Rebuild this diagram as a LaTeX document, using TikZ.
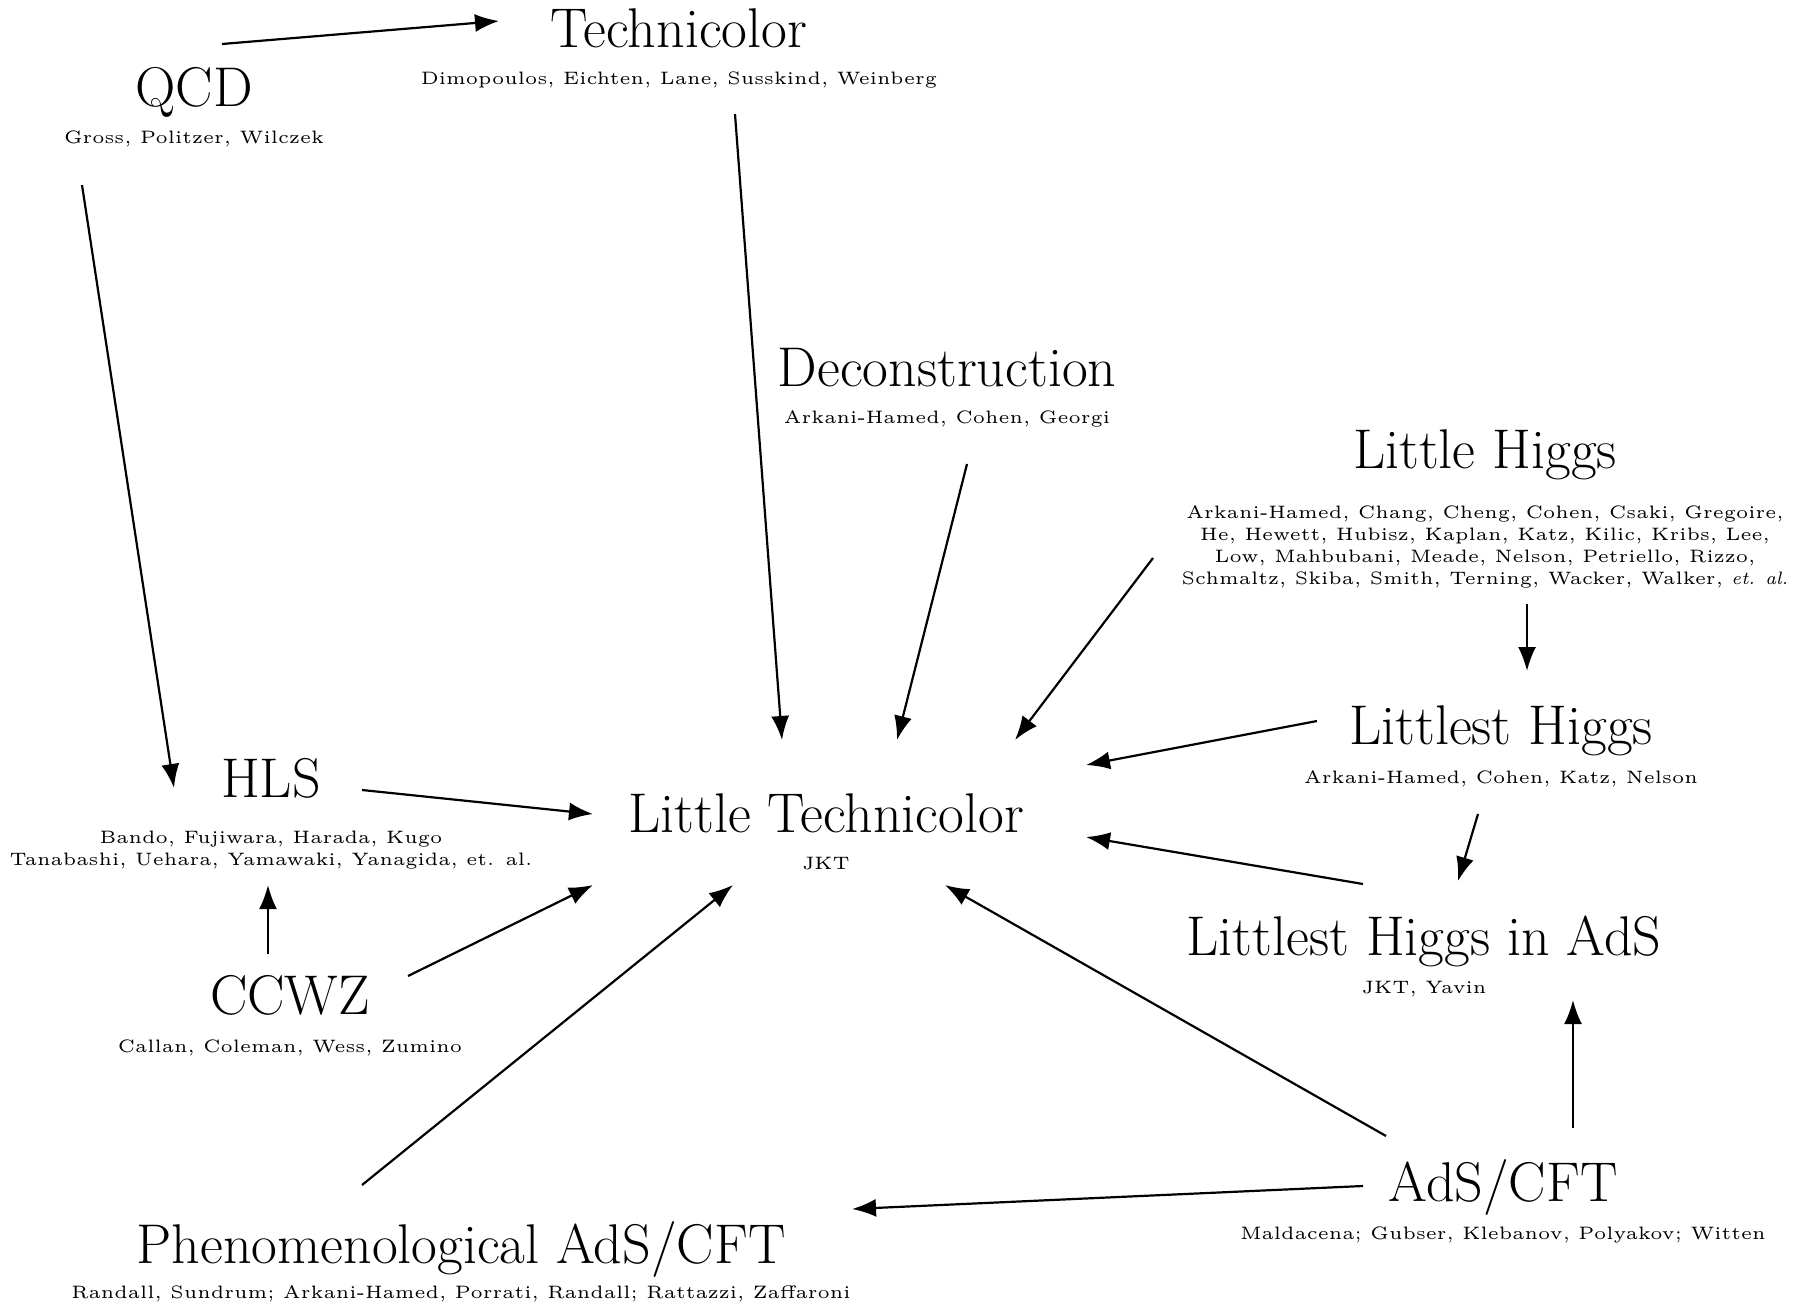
\documentclass[tikz,border=0pt]{standalone}
\usepackage{graphicx}
\usetikzlibrary{arrows.meta}
\begin{document}
\begin{tikzpicture}[x=0.5pt,y=-0.5pt,
  ttl/.style={anchor=base,inner sep=0pt,font=\fontsize{28}{31}\selectfont},
  sub/.style={anchor=base,inner sep=0pt,align=center,font=\fontsize{5}{6.05}\selectfont,scale=1.8,transform shape},
  arr/.style={line width=1.1pt,-{Latex[length=12pt,width=9pt]}}]
\useasboundingbox (0,0) rectangle (1811,1306);
% titles
\node[ttl] (tech) at (679,47) {Technicolor};
\node[sub] (tech-a) at (679,84) {Dimopoulos, Eichten, Lane, Susskind, Weinberg};
\node[ttl] (qcd) at (194,106) {QCD};
\node[sub] (qcd-a) at (194,143) {Gross, Politzer, Wilczek};
\node[ttl] (decon) at (947,386) {Deconstruction};
\node[sub] (decon-a) at (947,423) {Arkani-Hamed, Cohen, Georgi};
\node[ttl] (lh) at (1485,468) {Little Higgs};
\node[sub] (lh-a) at (1485,584) {Arkani-Hamed, Chang, Cheng, Cohen, Csaki, Gregoire,\\He, Hewett, Hubisz, Kaplan, Katz, Kilic, Kribs, Lee,\\Low, Mahbubani, Meade, Nelson, Petriello, Rizzo,\\Schmaltz, Skiba, Smith, Terning, Wacker, Walker, \emph{et. al.}};
\node[ttl] (lst) at (1501,744) {Littlest Higgs};
\node[sub] (lst-a) at (1501,783) {Arkani-Hamed, Cohen, Katz, Nelson};
\node[ttl] (ltc) at (826,832) {Little Technicolor};
\node[sub] (ltc-a) at (826,869) {JKT};
\node[ttl] (hls) at (271,797) {HLS};
\node[sub] (hls-a) at (271,865) {Bando, Fujiwara, Harada, Kugo\\Tanabashi, Uehara, Yamawaki, Yanagida, et. al.};
\node[ttl] (ccwz) at (290,1014) {CCWZ};
\node[sub] (ccwz-a) at (290,1052) {Callan, Coleman, Wess, Zumino};
\node[ttl] (lhads) at (1424,955) {Littlest Higgs in AdS};
\node[sub] (lhads-a) at (1424,993) {JKT, Yavin};
\node[ttl] (ads) at (1503,1201) {AdS/CFT};
\node[sub] (ads-a) at (1503,1239) {Maldacena; Gubser, Klebanov, Polyakov; Witten};
\node[ttl] (phen) at (461,1263) {Phenomenological AdS/CFT};
\node[sub] (phen-a) at (461,1298) {Randall, Sundrum; Arkani-Hamed, Porrati, Randall; Rattazzi, Zaffaroni};
% connectors
\draw[arr] ([shift={(28,-62)}]qcd.base) -- ([shift={(-180,-26)}]tech.base);
\draw[arr] ([shift={(56,67)}]tech.base) -- ([shift={(-44,-92)}]ltc.base);
\draw[arr] ([shift={(-112,79)}]qcd.base) -- ([shift={(-97,-9)}]hls.base);
\draw[arr] ([shift={(20,78)}]decon.base) -- ([shift={(71,-92)}]ltc.base);
\draw[arr] ([shift={(-332,90)}]lh.base) -- ([shift={(189,-92)}]ltc.base);
\draw[arr] ([shift={(42,136)}]lh.base) -- ([shift={(26,-73)}]lst.base);
\draw[arr] ([shift={(-184,-23)}]lst.base) -- ([shift={(260,-67)}]ltc.base);
\draw[arr] ([shift={(-23,70)}]lst.base) -- ([shift={(34,-74)}]lhads.base);
\draw[arr] ([shift={(-61,-71)}]lhads.base) -- ([shift={(260,5)}]ltc.base);
\draw[arr] ([shift={(91,-7)}]hls.base) -- ([shift={(-233,-18)}]ltc.base);
\draw[arr] ([shift={(-22,-60)}]ccwz.base) -- ([shift={(-3,88)}]hls.base);
\draw[arr] ([shift={(118,-38)}]ccwz.base) -- ([shift={(-233,53)}]ltc.base);
\draw[arr] ([shift={(-99,-78)}]phen.base) -- ([shift={(-93,53)}]ltc.base);
\draw[arr] ([shift={(-117,-65)}]ads.base) -- ([shift={(119,53)}]ltc.base);
\draw[arr] ([shift={(70,-73)}]ads.base) -- ([shift={(149,45)}]lhads.base);
\draw[arr] ([shift={(-140,-15)}]ads.base) -- ([shift={(391,-54)}]phen.base);
\end{tikzpicture}
\end{document}
